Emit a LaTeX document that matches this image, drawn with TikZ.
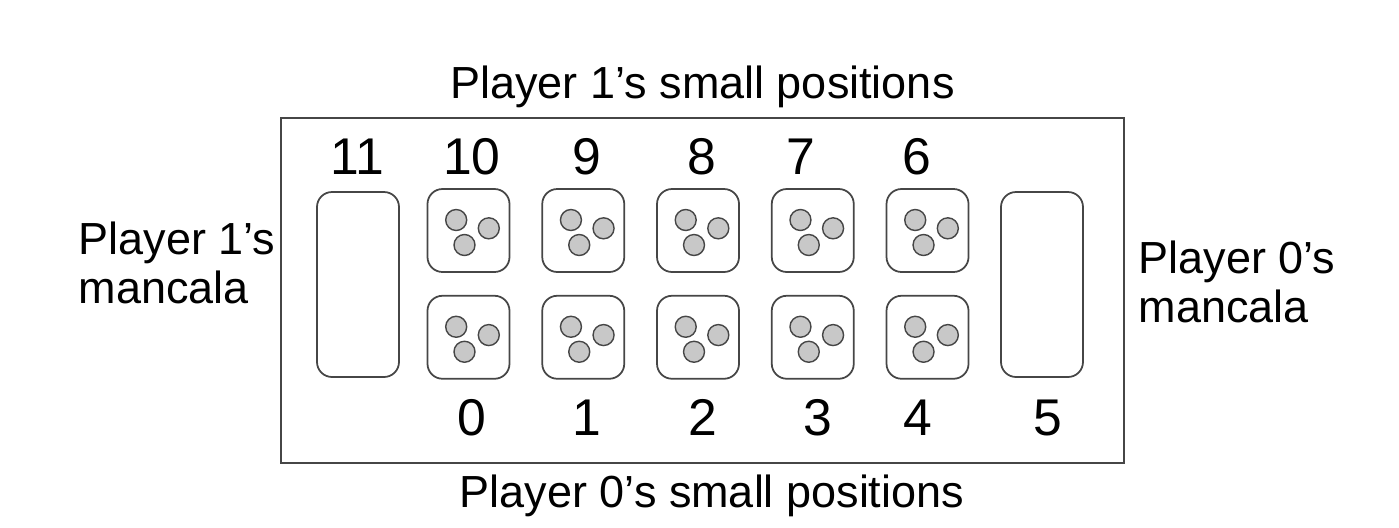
\documentclass[tikz,border=0pt]{standalone}
\usepackage{fontspec}
\setmainfont{Liberation Sans}
\usetikzlibrary{positioning}
\definecolor{stonegray}{RGB}{200,200,200}
\definecolor{edgegray}{RGB}{70,70,70}
\tikzset{
  board/.style={rectangle, draw=edgegray, line width=0.5pt, minimum width=8.43cm, minimum height=3.45cm, inner sep=0pt},
  pit/.style={rectangle, rounded corners=0.15cm, draw=edgegray, line width=0.5pt, minimum width=0.82cm, minimum height=0.83cm, inner sep=0pt},
  store/.style={rectangle, rounded corners=0.15cm, draw=edgegray, line width=0.5pt, minimum width=0.82cm, minimum height=1.85cm, inner sep=0pt},
  stone/.style={circle, draw=edgegray, line width=0.4pt, fill=stonegray, minimum size=0.21cm, inner sep=0pt},
  numlabel/.style={anchor=base, font=\fontsize{14.7}{16}\selectfont, inner sep=0pt},
  caption/.style={anchor=base, font=\fontsize{12.8}{14}\selectfont, inner sep=0pt},
  sidelabel/.style={anchor=base west, align=left, font=\fontsize{12.8}{13.7}\selectfont, inner sep=0pt},
  stones/.pic={
    \node[stone] at (-0.123,0.105) {};
    \node[stone] at (0.203,0.022) {};
    \node[stone] at (-0.04,-0.145) {};
  },
}

\begin{document}
\begin{tikzpicture}[node distance=0.31cm and 0.31cm]
\useasboundingbox (0,0) rectangle (13.99,5.27);
\node[board] (board) at (7.025,2.365) {};
\node[store] (store1) at (3.58,2.425) {};
\node[store] (store0) at (10.42,2.425) {};
% top row: player 1
\node[pit] (p10) at (4.685,2.965) {};
\node[pit, right=of p10] (p9) {};
\node[pit, right=of p9] (p8) {};
\node[pit, right=of p8] (p7) {};
\node[pit, right=of p7] (p6) {};
% bottom row: player 0
\node[pit, below=0.22cm of p10] (p0) {};
\node[pit, right=of p0] (p1) {};
\node[pit, right=of p1] (p2) {};
\node[pit, right=of p2] (p3) {};
\node[pit, right=of p3] (p4) {};
\pic at (p0) {stones};
\pic at (p1) {stones};
\pic at (p2) {stones};
\pic at (p3) {stones};
\pic at (p4) {stones};
\pic at (p6) {stones};
\pic at (p7) {stones};
\pic at (p8) {stones};
\pic at (p9) {stones};
\pic at (p10) {stones};
% position numbers
\node[numlabel] (n11) at (3.57,3.53) {11};
\node[numlabel] (n10) at (4.72,3.53) {10};
\node[numlabel] (n9) at (5.87,3.53) {9};
\node[numlabel] (n8) at (7.02,3.53) {8};
\node[numlabel] (n7) at (8.01,3.53) {7};
\node[numlabel] (n6) at (9.17,3.53) {6};
\node[numlabel] (n0) at (4.72,0.92) {0};
\node[numlabel] (n1) at (5.87,0.92) {1};
\node[numlabel] (n2) at (7.03,0.92) {2};
\node[numlabel] (n3) at (8.18,0.92) {3};
\node[numlabel] (n4) at (9.18,0.92) {4};
\node[numlabel] (n5) at (10.48,0.92) {5};
% captions
\node[caption] (top) at (7.025,4.29) {Player 1’s small positions};
\node[caption] (bottom) at (7.12,0.20) {Player 0’s small positions};
\node[sidelabel] (left) at (0.78,2.24) {Player 1’s\\mancala};
\node[sidelabel] (right) at (11.38,2.05) {Player 0’s\\mancala};
\end{tikzpicture}
\end{document}
